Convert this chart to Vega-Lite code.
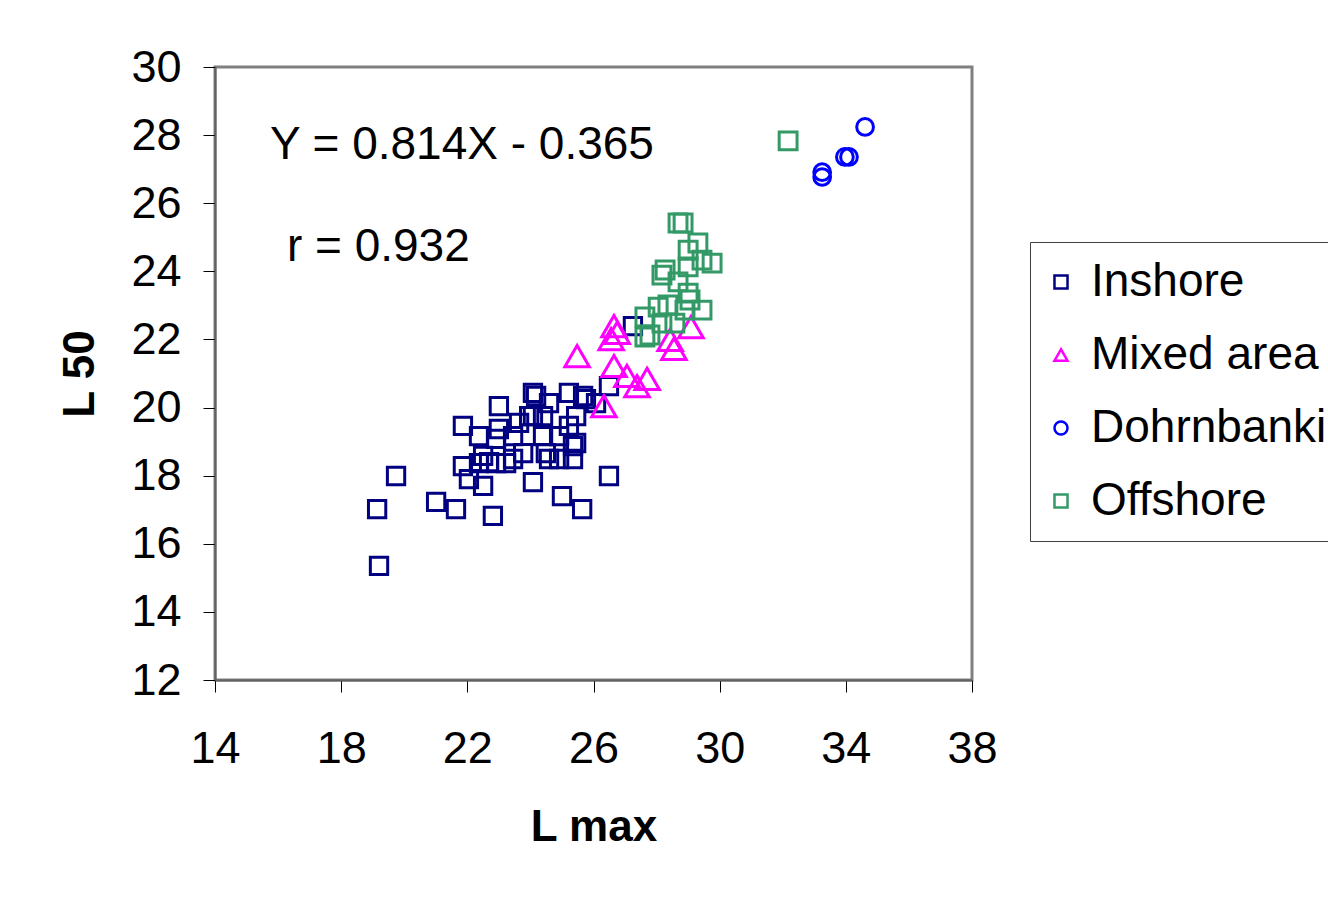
{
  "$schema": "https://vega.github.io/schema/vega-lite/v6.json",
  "width": 757,
  "height": 613,
  "autosize": {"type": "none"},
  "padding": {"left": 215, "top": 67, "right": 356, "bottom": 218},
  "background": "white",
  "config": {
    "font": "Liberation Sans",
    "view": {"stroke": "#808080", "strokeWidth": 3}
  },
  "data": {
    "values": [
      {"Area": "Inshore", "Lmax": 19.14, "L50": 17.02},
      {"Area": "Inshore", "Lmax": 19.2, "L50": 15.35},
      {"Area": "Inshore", "Lmax": 19.74, "L50": 17.99},
      {"Area": "Inshore", "Lmax": 21.01, "L50": 17.23},
      {"Area": "Inshore", "Lmax": 21.64, "L50": 17.02},
      {"Area": "Inshore", "Lmax": 22.81, "L50": 16.82},
      {"Area": "Inshore", "Lmax": 24.08, "L50": 17.81},
      {"Area": "Inshore", "Lmax": 25.0, "L50": 17.4},
      {"Area": "Inshore", "Lmax": 25.64, "L50": 17.02},
      {"Area": "Inshore", "Lmax": 26.49, "L50": 17.99},
      {"Area": "Inshore", "Lmax": 21.86, "L50": 19.46},
      {"Area": "Inshore", "Lmax": 23.0, "L50": 20.04},
      {"Area": "Inshore", "Lmax": 22.37, "L50": 19.16},
      {"Area": "Inshore", "Lmax": 22.91, "L50": 19.08},
      {"Area": "Inshore", "Lmax": 21.86, "L50": 18.28},
      {"Area": "Inshore", "Lmax": 22.05, "L50": 17.9},
      {"Area": "Inshore", "Lmax": 22.5, "L50": 17.7},
      {"Area": "Inshore", "Lmax": 22.37, "L50": 18.37},
      {"Area": "Inshore", "Lmax": 22.69, "L50": 18.4},
      {"Area": "Inshore", "Lmax": 22.91, "L50": 18.37},
      {"Area": "Inshore", "Lmax": 23.45, "L50": 18.49},
      {"Area": "Inshore", "Lmax": 23.77, "L50": 18.66},
      {"Area": "Inshore", "Lmax": 23.45, "L50": 19.16},
      {"Area": "Inshore", "Lmax": 24.08, "L50": 19.75},
      {"Area": "Inshore", "Lmax": 24.4, "L50": 19.75},
      {"Area": "Inshore", "Lmax": 24.18, "L50": 20.34},
      {"Area": "Inshore", "Lmax": 24.08, "L50": 20.43},
      {"Area": "Inshore", "Lmax": 25.22, "L50": 20.43},
      {"Area": "Inshore", "Lmax": 25.67, "L50": 20.34},
      {"Area": "Inshore", "Lmax": 24.59, "L50": 20.13},
      {"Area": "Inshore", "Lmax": 24.4, "L50": 19.16},
      {"Area": "Inshore", "Lmax": 24.91, "L50": 19.16},
      {"Area": "Inshore", "Lmax": 25.22, "L50": 19.46},
      {"Area": "Inshore", "Lmax": 25.45, "L50": 19.75},
      {"Area": "Inshore", "Lmax": 25.45, "L50": 18.96},
      {"Area": "Inshore", "Lmax": 24.91, "L50": 18.49},
      {"Area": "Inshore", "Lmax": 25.35, "L50": 18.49},
      {"Area": "Inshore", "Lmax": 24.59, "L50": 18.49},
      {"Area": "Inshore", "Lmax": 26.08, "L50": 20.13},
      {"Area": "Inshore", "Lmax": 26.49, "L50": 20.63},
      {"Area": "Inshore", "Lmax": 27.25, "L50": 22.39},
      {"Area": "Inshore", "Lmax": 23.64, "L50": 19.55},
      {"Area": "Inshore", "Lmax": 23.0, "L50": 19.37},
      {"Area": "Inshore", "Lmax": 22.5, "L50": 18.58},
      {"Area": "Inshore", "Lmax": 23.23, "L50": 18.37},
      {"Area": "Inshore", "Lmax": 23.96, "L50": 19.75},
      {"Area": "Inshore", "Lmax": 25.76, "L50": 20.25},
      {"Area": "Inshore", "Lmax": 24.49, "L50": 18.66},
      {"Area": "Inshore", "Lmax": 25.35, "L50": 18.87},
      {"Area": "Mixed area", "Lmax": 25.48, "L50": 21.51},
      {"Area": "Mixed area", "Lmax": 26.65, "L50": 22.39},
      {"Area": "Mixed area", "Lmax": 26.75, "L50": 22.19},
      {"Area": "Mixed area", "Lmax": 26.56, "L50": 22.01},
      {"Area": "Mixed area", "Lmax": 26.65, "L50": 21.22},
      {"Area": "Mixed area", "Lmax": 27.06, "L50": 20.93},
      {"Area": "Mixed area", "Lmax": 27.38, "L50": 20.63},
      {"Area": "Mixed area", "Lmax": 27.7, "L50": 20.84},
      {"Area": "Mixed area", "Lmax": 28.55, "L50": 21.72},
      {"Area": "Mixed area", "Lmax": 29.09, "L50": 22.36},
      {"Area": "Mixed area", "Lmax": 26.33, "L50": 20.04},
      {"Area": "Mixed area", "Lmax": 28.43, "L50": 21.99},
      {"Area": "Dohrnbanki", "Lmax": 34.61, "L50": 28.24},
      {"Area": "Dohrnbanki", "Lmax": 34.1, "L50": 27.36},
      {"Area": "Dohrnbanki", "Lmax": 33.97, "L50": 27.36},
      {"Area": "Dohrnbanki", "Lmax": 33.25, "L50": 26.77},
      {"Area": "Dohrnbanki", "Lmax": 33.25, "L50": 26.91},
      {"Area": "Offshore", "Lmax": 32.17, "L50": 27.83},
      {"Area": "Offshore", "Lmax": 28.84, "L50": 25.42},
      {"Area": "Offshore", "Lmax": 28.68, "L50": 25.42},
      {"Area": "Offshore", "Lmax": 29.31, "L50": 24.83},
      {"Area": "Offshore", "Lmax": 29.0, "L50": 24.62},
      {"Area": "Offshore", "Lmax": 29.44, "L50": 24.33},
      {"Area": "Offshore", "Lmax": 29.76, "L50": 24.24},
      {"Area": "Offshore", "Lmax": 29.0, "L50": 24.13},
      {"Area": "Offshore", "Lmax": 28.27, "L50": 24.04},
      {"Area": "Offshore", "Lmax": 28.17, "L50": 23.89},
      {"Area": "Offshore", "Lmax": 28.68, "L50": 23.69},
      {"Area": "Offshore", "Lmax": 29.0, "L50": 23.36},
      {"Area": "Offshore", "Lmax": 28.9, "L50": 22.86},
      {"Area": "Offshore", "Lmax": 29.44, "L50": 22.86},
      {"Area": "Offshore", "Lmax": 28.05, "L50": 22.95},
      {"Area": "Offshore", "Lmax": 27.63, "L50": 22.66},
      {"Area": "Offshore", "Lmax": 28.58, "L50": 22.48},
      {"Area": "Offshore", "Lmax": 28.17, "L50": 22.48},
      {"Area": "Offshore", "Lmax": 27.63, "L50": 22.07},
      {"Area": "Offshore", "Lmax": 27.79, "L50": 22.13},
      {"Area": "Offshore", "Lmax": 28.36, "L50": 23.01},
      {"Area": "Offshore", "Lmax": 29.06, "L50": 23.16}
    ]
  },
  "layer": [
    {
      "encoding": {
        "x": {
          "field": "Lmax", "type": "quantitative", "title": "L max",
          "scale": {"domain": [14, 38], "nice": false, "zero": false},
          "axis": {
            "values": [14, 18, 22, 26, 30, 34, 38], "grid": false,
            "labelFlush": false, "labelOverlap": false,
            "labelFontSize": 45, "labelColor": "black", "labelPadding": 34,
            "tickColor": "black", "tickSize": 12, "tickWidth": 1,
            "domainColor": "#606060", "domainWidth": 2,
            "titleFontSize": 44, "titleFontWeight": "bold", "titleColor": "black", "titlePadding": 34
          }
        },
        "y": {
          "field": "L50", "type": "quantitative", "title": "L 50",
          "scale": {"domain": [12, 30], "nice": false, "zero": false},
          "axis": {
            "values": [12, 14, 16, 18, 20, 22, 24, 26, 28, 30], "grid": false,
            "labelFlush": false, "labelOverlap": false,
            "labelFontSize": 45, "labelColor": "black", "labelPadding": 22,
            "tickColor": "black", "tickSize": 12, "tickWidth": 1,
            "domainColor": "#606060", "domainWidth": 2,
            "titleFontSize": 44, "titleFontWeight": "bold", "titleColor": "black", "titlePadding": 28
          }
        },
        "color": {
          "field": "Area", "type": "nominal",
          "scale": {"domain": ["Inshore", "Mixed area", "Dohrnbanki", "Offshore"], "range": ["#000080", "#FF00FF", "#0000FF", "#339966"]},
          "legend": {
            "title": null, "orient": "none", "legendX": 815, "legendY": 175,
            "labelFontSize": 46, "labelColor": "black", "labelLimit": 500,
            "symbolSize": 170, "symbolStrokeWidth": 2.5, "symbolOffset": -9,
            "labelOffset": 7, "rowPadding": 27, "padding": 17,
            "strokeColor": "#404040", "fillColor": "white"
          }
        },
        "shape": {
          "field": "Area", "type": "nominal",
          "scale": {"domain": ["Inshore", "Mixed area", "Dohrnbanki", "Offshore"], "range": ["square", "triangle-up", "circle", "square"]}
        }
      },
      "layer": [
        {
          "transform": [{"filter": "datum.Area === 'Inshore'"}],
          "mark": {"type": "point", "filled": false, "strokeWidth": 3, "opacity": 1, "size": 300}
        },
        {
          "transform": [{"filter": "datum.Area === 'Mixed area'"}],
          "mark": {"type": "point", "filled": false, "strokeWidth": 3, "opacity": 1, "size": 600}
        },
        {
          "transform": [{"filter": "datum.Area === 'Dohrnbanki'"}],
          "mark": {"type": "point", "filled": false, "strokeWidth": 3, "opacity": 1, "size": 280}
        },
        {
          "transform": [{"filter": "datum.Area === 'Offshore'"}],
          "mark": {"type": "point", "filled": false, "strokeWidth": 3, "opacity": 1, "size": 320}
        }
      ]
    },
    {
      "data": {"values": [{}]},
      "mark": {"type": "text", "align": "left", "baseline": "middle", "fontSize": 46, "color": "black"},
      "encoding": {
        "x": {"datum": 15.74, "type": "quantitative"},
        "y": {"datum": 27.71, "type": "quantitative"},
        "text": {"value": "Y = 0.814X - 0.365"}
      }
    },
    {
      "data": {"values": [{}]},
      "mark": {"type": "text", "align": "left", "baseline": "middle", "fontSize": 46, "color": "black"},
      "encoding": {
        "x": {"datum": 16.28, "type": "quantitative"},
        "y": {"datum": 24.71, "type": "quantitative"},
        "text": {"value": "r = 0.932"}
      }
    }
  ]
}
